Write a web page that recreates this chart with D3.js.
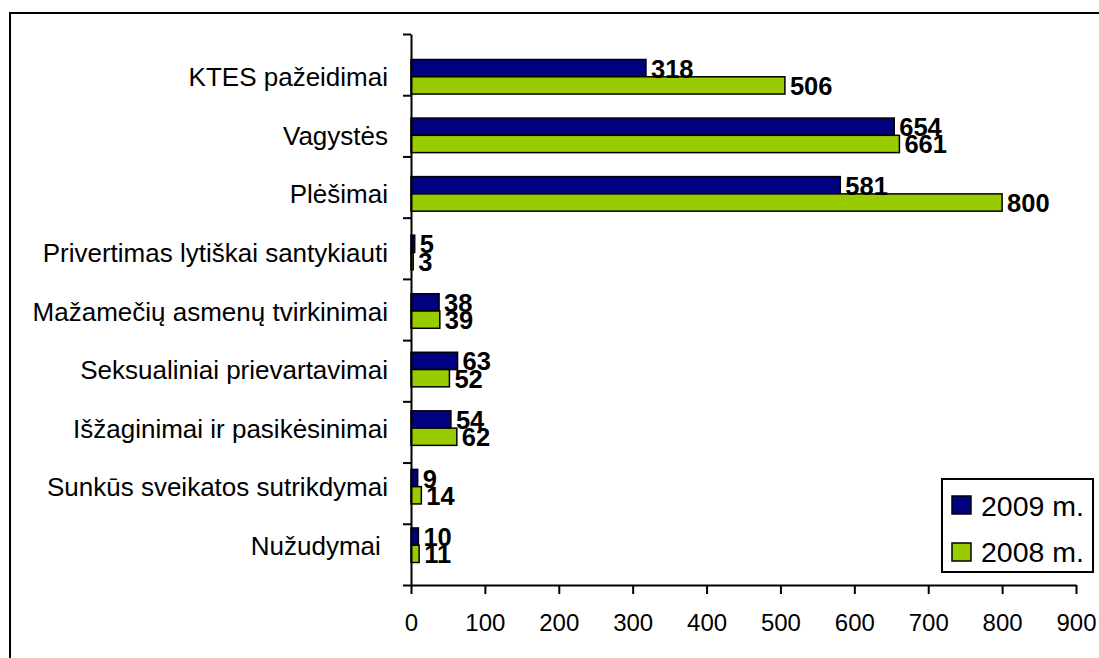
<!DOCTYPE html>
<html>
<head>
<meta charset="utf-8">
<script src="https://cdn.jsdelivr.net/npm/d3@7"></script>
<style>
  body { margin: 0; background: #fff; }
  text { font-family: Arial, "Liberation Sans", sans-serif; }
</style>
</head>
<body>
<svg width="1099" height="658"></svg>
<script>
const categories = [
  'KTES pažeidimai',
  'Vagystės',
  'Plėšimai',
  'Privertimas lytiškai santykiauti',
  'Mažamečių asmenų tvirkinimai',
  'Seksualiniai prievartavimai',
  'Išžaginimai ir pasikėsinimai',
  'Sunkūs sveikatos sutrikdymai',
  'Nužudymai '
];
const values2009 = [318, 654, 581, 5, 38, 63, 54, 9, 10];
const values2008 = [506, 661, 800, 3, 39, 52, 62, 14, 11];
const seriesNames = ['2009 m.', '2008 m.'];
const xTicks = [0, 100, 200, 300, 400, 500, 600, 700, 800, 900];

const svg = d3.select('svg');
const width = +svg.attr('width');
const height = +svg.attr('height');

const colors = ['#000080', '#99cc00'];

// outer frame (runs off the right and bottom edge)
svg.append('rect')
  .attr('x', 10).attr('y', 13)
  .attr('width', 1200).attr('height', 1000)
  .attr('fill', 'none')
  .attr('stroke', '#000')
  .attr('stroke-width', 2);

const plotLeft = 411, plotRight = 1076, plotTop = 34, plotBottom = 585;

const x = d3.scaleLinear().domain([0, 900]).range([plotLeft, plotRight]);
const y = d3.scaleBand().domain(categories).range([plotTop, plotBottom]).padding(0.41);
const barH = y.bandwidth() / 2;

const series = [values2009, values2008];

// bars
series.forEach((vals, s) => {
  svg.append('g').selectAll('rect')
    .data(vals)
    .join('rect')
    .attr('x', x(0))
    .attr('y', (d, i) => y(categories[i]) + 1.5 + s * barH)
    .attr('width', d => x(d) - x(0))
    .attr('height', barH)
    .attr('fill', colors[s])
    .attr('stroke', '#000')
    .attr('stroke-width', 1.5);
});

// value labels
series.forEach((vals, s) => {
  svg.append('g').selectAll('text')
    .data(vals)
    .join('text')
    .attr('x', d => x(d) + 5)
    .attr('y', (d, i) => y(categories[i]) + 1.5 + s * barH + barH / 2 + 9.5)
    .attr('font-size', 25.5)
    .attr('font-weight', 'bold')
    .attr('fill', '#000')
    .text(d => d);
});

// x axis
const xAxis = svg.append('g')
  .attr('transform', `translate(0, ${plotBottom})`)
  .call(d3.axisBottom(x).tickValues(xTicks).tickSize(9).tickPadding(20).tickSizeOuter(0));
xAxis.select('.domain').attr('stroke-width', 2);
xAxis.selectAll('.tick line').attr('stroke-width', 2);
xAxis.selectAll('.tick text')
  .attr('font-size', 24)
  .attr('font-family', 'Arial, "Liberation Sans", sans-serif')
  .attr('fill', '#000');

// y axis: ticks between categories
const yEdge = d3.scaleLinear().domain([0, categories.length]).range([plotTop, plotBottom]);
const yAxis = svg.append('g')
  .attr('transform', `translate(${plotLeft}, 0)`)
  .call(d3.axisLeft(yEdge).ticks(categories.length).tickSize(8).tickFormat('').tickSizeOuter(0));
yAxis.select('.domain').attr('stroke-width', 2);
yAxis.selectAll('.tick line').attr('stroke-width', 2);

// category labels
svg.append('g').selectAll('text')
  .data(categories)
  .join('text')
  .attr('x', 388)
  .attr('y', d => y(d) + y.bandwidth() / 2 + 1.5 + 9.5)
  .attr('text-anchor', 'end')
  .attr('font-size', 26)
  .attr('fill', '#000')
  .style('white-space', 'pre')
  .text(d => d);

// legend
const legend = svg.append('g');
legend.append('rect')
  .attr('x', 942).attr('y', 479)
  .attr('width', 151).attr('height', 93)
  .attr('fill', '#fff')
  .attr('stroke', '#000')
  .attr('stroke-width', 2);

seriesNames.forEach((name, i) => {
  legend.append('rect')
    .attr('x', 952).attr('y', 496 + i * 47)
    .attr('width', 19).attr('height', 18)
    .attr('fill', colors[i])
    .attr('stroke', '#000')
    .attr('stroke-width', 1.5);
  legend.append('text')
    .attr('x', 981).attr('y', 516 + i * 46)
    .attr('font-size', 28.5)
    .attr('fill', '#000')
    .text(name);
});
</script>
</body>
</html>
